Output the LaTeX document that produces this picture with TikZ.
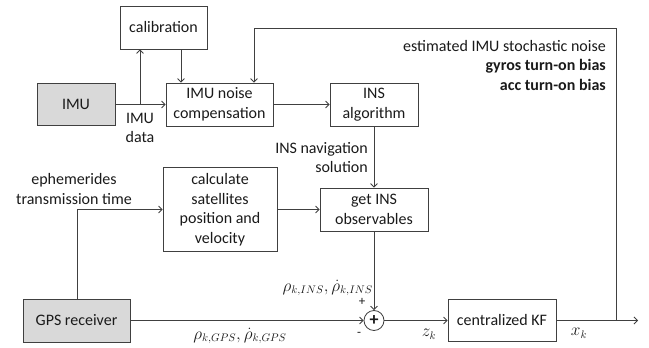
\documentclass[tikz,border=0pt]{standalone}
\usepackage{fontspec}
\setmainfont{Carlito}
\usetikzlibrary{arrows.meta,calc}
\definecolor{linec}{HTML}{404040}
\definecolor{boxgray}{HTML}{D9D9D9}
\definecolor{txt}{HTML}{1A1A1A}
\tikzset{
  blk/.style={draw=linec, line width=0.8pt, rectangle, inner sep=0pt, align=center,
              text=txt, font=\fontsize{16}{19.5}\selectfont},
  hw/.style={blk, fill=boxgray},
  lbl/.style={text=txt, inner sep=0pt, font=\fontsize{16}{19.5}\selectfont},
  arr/.style={draw=linec, line width=0.8pt, -{Straight Barb[length=3.5pt,width=7pt]}},
  ln/.style={draw=linec, line width=0.8pt},
}
\begin{document}
\begin{tikzpicture}[x=1pt, y=-1pt]
\useasboundingbox (0,0) rectangle (649,348);

% processing blocks
\node[blk, minimum width=87pt, minimum height=43pt] (calib) at (163.5,27.5) {calibration};
\node[hw,  minimum width=78pt, minimum height=42pt] (imu) at (76,104.5) {IMU};
\node[blk, minimum width=107pt, minimum height=43pt] (noise) at (219.5,104.5) {IMU noise\\compensation};
\node[blk, minimum width=88pt, minimum height=43pt] (insalg) at (374,104.5) {INS\\algorithm};
\node[blk, minimum width=114pt, minimum height=84pt] (calc) at (220,209.5) {calculate\\satellites\\position and\\velocity};
\node[blk, minimum width=108pt, minimum height=43pt] (getins) at (374,209.5) {get INS\\observables};
\node[hw,  minimum width=107pt, minimum height=43pt] (gps) at (76.5,320.5) {GPS receiver};
\node[draw=linec, line width=0.8pt, circle, minimum size=20pt, inner sep=0pt,
      font=\fontsize{18}{18}\selectfont\bfseries, text=txt] (sum) at (374,320.5) {+};
\node[blk, minimum width=108pt, minimum height=42pt] (kf) at (502,320.5) {centralized KF};

% helper points
\coordinate (split) at (140,104.5);
\coordinate (calx) at (181,0);
\coordinate (fbx) at (254,28);
\coordinate (fb) at (616,320.5);
\coordinate (out) at (638,320.5);
\coordinate (gpsx) at (77,0);

% connectors
\draw[arr] (imu.east) -- (noise.west);
\draw[arr] (split) -- (split |- calib.south);
\draw[arr] (calib.south -| calx) -- (noise.north -| calx);
\draw[arr] (noise.east) -- (insalg.west);
\draw[arr] (insalg.south) -- (getins.north);
\draw[arr] (gps.north -| gpsx) |- (calc.west);
\draw[arr] (calc.east) -- (getins.west);
\draw[arr] (getins.south) -- (sum.north);
\draw[arr] (gps.east) -- (sum.west);
\draw[arr] (sum.east) -- (kf.west);
\draw[arr] (kf.east) -- (out);
\draw[arr] (fb) |- (fbx) -- (noise.north -| fbx);

% labels
\node[lbl, align=center] (imudata) at (140,128) {IMU\\data};
\node[lbl, align=right, anchor=east] (noiselbl) at (606,65.5)
  {estimated IMU stochastic noise\\\textbf{gyros turn-on bias}\\\textbf{acc turn-on bias}};
\node[lbl, align=right, anchor=east] (navsol) at (368,157.5) {INS navigation\\solution};
\node[lbl, align=center] (ephem) at (74,189) {ephemerides\\transmission time};
\node[lbl, anchor=east] (rhoins) at (373,288) {$\rho_{k,INS},\dot{\rho}_{k,INS}$};
\node[lbl] (rhogps) at (240,336) {$\rho_{k,GPS},\dot{\rho}_{k,GPS}$};
\node[lbl, font=\fontsize{13}{13}\selectfont] (plus) at (362,302) {+};
\node[lbl, font=\fontsize{13}{13}\selectfont] (minus) at (359,334) {-};
\node[lbl] (zk) at (429,334) {$z_k$};
\node[lbl] (xk) at (579,333) {$x_k$};
\end{tikzpicture}
\end{document}
